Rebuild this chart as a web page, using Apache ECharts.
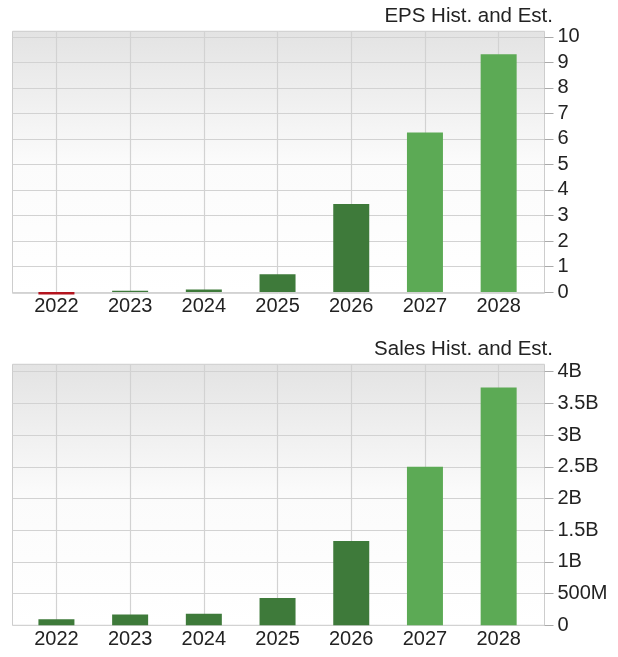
<!DOCTYPE html>
<html><head><meta charset="utf-8">
<script src="https://cdn.jsdelivr.net/npm/echarts@6/dist/echarts.min.js"></script>
<style>html,body{margin:0;padding:0;background:#fff}#c{width:618px;height:657px}</style>
</head><body><div id="c"></div>
<script>
const years = [2022, 2023, 2024, 2025, 2026, 2027, 2028];
const epsValues = [-0.1, 0.05, 0.1, 0.7, 3.45, 6.25, 9.32];
const salesValues = [95e6, 172e6, 182e6, 430e6, 1.33e9, 2.5e9, 3.75e9];
const periodType = ['actual', 'actual', 'actual', 'actual', 'actual', 'estimate', 'estimate'];
const epsTicks = [0, 1, 2, 3, 4, 5, 6, 7, 8, 9, 10];
const salesTicks = [0, 5e8, 1e9, 1.5e9, 2e9, 2.5e9, 3e9, 3.5e9, 4e9];
const titles = ['EPS Hist. and Est.', 'Sales Hist. and Est.'];

const FONT = 'Liberation Sans';
const DARK = '#3e7a3a', LIGHT = '#5caa55', RED = '#b3141e';
function colorFor(v, i) {
  if (v < 0) return RED;
  return periodType[i] === 'estimate' ? LIGHT : DARK;
}
function bg() {
  return new echarts.graphic.LinearGradient(0, 0, 0, 1, [
    { offset: 0, color: '#e3e3e3' },
    { offset: 0.5, color: '#fbfbfb' },
    { offset: 1, color: '#ffffff' }
  ]);
}
function salesFmt(v) {
  if (v === 0) return '0';
  if (v < 1e9) return (v / 1e6) + 'M';
  return (v / 1e9) + 'B';
}
const chart = echarts.init(document.getElementById('c'), null, { renderer: 'canvas' });
const gridCommon = { left: 12.5, width: 532, show: true, borderColor: '#cdcdcd', borderWidth: 1, containLabel: false };
const xCommon = {
  type: 'value', min: 2021.404, max: 2028.622,
  axisLine: { show: false }, axisTick: { show: false, customValues: years },
  splitLine: { show: true, lineStyle: { color: '#d2d2d2', width: 1.2 } },
  axisLabel: { customValues: years, formatter: v => String(v), color: '#222', fontFamily: FONT, fontSize: 20, margin: 3 }
};
const yCommon = {
  type: 'value', position: 'right',
  axisLine: { show: false },
  splitLine: { show: true, lineStyle: { color: '#d2d2d2', width: 1.2 } },
  axisLabel: { color: '#222', fontFamily: FONT, fontSize: 20, margin: 13 }
};
chart.setOption({
  animation: false,
  backgroundColor: '#fff',
  title: [
    { text: titles[0], right: 65, top: 6, padding: 0, textStyle: { fontFamily: FONT, fontSize: 20.5, fontWeight: 'normal', color: '#222', lineHeight: 20 } },
    { text: titles[1], right: 65, top: 339, padding: 0, textStyle: { fontFamily: FONT, fontSize: 20.5, fontWeight: 'normal', color: '#222', lineHeight: 20 } }
  ],
  grid: [
    Object.assign({ top: 31.3, height: 262, backgroundColor: bg() }, gridCommon),
    Object.assign({ top: 364.3, height: 261, backgroundColor: bg() }, gridCommon)
  ],
  xAxis: [
    Object.assign({ gridIndex: 0 }, xCommon),
    Object.assign({ gridIndex: 1 }, xCommon, { axisLabel: Object.assign({}, xCommon.axisLabel, { margin: 4 }) })
  ],
  yAxis: [
    Object.assign({}, yCommon, {
      gridIndex: 0, min: -0.05, max: 10.22,
      axisTick: { show: true, customValues: epsTicks, length: 9, lineStyle: { color: '#aaa' } },
      axisLabel: Object.assign({}, yCommon.axisLabel, { customValues: epsTicks })
    }),
    Object.assign({}, yCommon, {
      gridIndex: 1, min: 0, max: 4.117e9,
      axisTick: { show: true, customValues: salesTicks, length: 9, lineStyle: { color: '#aaa' } },
      axisLabel: Object.assign({}, yCommon.axisLabel, { customValues: salesTicks, formatter: salesFmt })
    })
  ],
  series: [
    {
      type: 'bar', xAxisIndex: 0, yAxisIndex: 0, barWidth: 36, clip: false,
      data: years.map((y, i) => ({ value: [y, epsValues[i]], itemStyle: { color: colorFor(epsValues[i], i) } }))
    },
    {
      type: 'bar', xAxisIndex: 1, yAxisIndex: 1, barWidth: 36, clip: false,
      data: years.map((y, i) => ({ value: [y, salesValues[i]], itemStyle: { color: colorFor(salesValues[i], i) } }))
    }
  ]
});
</script></body></html>
